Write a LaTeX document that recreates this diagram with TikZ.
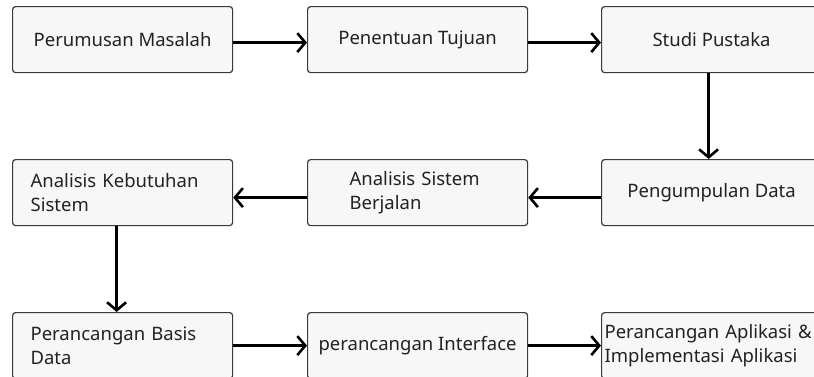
\documentclass[tikz,border=0pt]{standalone}
\usepackage{fontspec}
\setmainfont{Noto Sans}
\usetikzlibrary{arrows.meta}
\definecolor{boxfill}{HTML}{F7F7F7}
\definecolor{boxline}{HTML}{3A3A3A}
\definecolor{txt}{HTML}{222222}
\tikzset{
  box/.style={draw=boxline, fill=boxfill, line width=1.2pt, rounded corners=3pt,
    minimum width=220pt, minimum height=66pt, anchor=north west, inner sep=0pt,
    font=\fontsize{18.5}{24}\selectfont, text=txt},
  lbox/.style={box, text width=220pt, align=left},
  arr/.style={line width=2.7pt, -{Straight Barb[length=8pt,width=19pt,line width=2.6pt]}}
}
\begin{document}
\begin{tikzpicture}[x=1pt,y=-1pt]
\clip (0,0) rectangle (814,376);
\fill[white] (0,0) rectangle (814,376);
\node[box] (b1) at (12,6) {Perumusan Masalah};
\node[box] (b2) at (307,6) {Penentuan Tujuan};
\node[box] (b3) at (601,6) {Studi Pustaka};
\node[box] (b6) at (601,159) {Pengumpulan Data};
\node[lbox] (b5) at (307,159) {\hspace*{42pt}Analisis Sistem\\\hspace*{42pt}Berjalan};
\node[lbox] (b4) at (12,159) {\hspace*{18pt}Analisis Kebutuhan\\\hspace*{18pt}Sistem};
\node[lbox] (b7) at (12,312) {\hspace*{18pt}Perancangan Basis\\\hspace*{18pt}Data};
\node[box] (b8) at (307,312) {perancangan Interface};
\node[lbox] (b9) at (601,312) {\hspace*{3pt}Perancangan Aplikasi \&\\\hspace*{3pt}Implementasi Aplikasi};
\draw[arr] ([yshift=-3pt]b1.east) -- ([yshift=-3pt]b2.west);
\draw[arr] ([yshift=-3pt]b2.east) -- ([yshift=-3pt]b3.west);
\draw[arr] ([xshift=-3pt]b3.south) -- ([xshift=-3pt]b6.north);
\draw[arr] ([yshift=-5pt]b6.west) -- ([yshift=-5pt]b5.east);
\draw[arr] ([yshift=-5pt]b5.west) -- ([yshift=-5pt]b4.east);
\draw[arr] ([xshift=-6pt]b4.south) -- ([xshift=-6pt]b7.north);
\draw[arr] (b7.east) -- (b8.west);
\draw[arr] (b8.east) -- (b9.west);
\end{tikzpicture}
\end{document}
